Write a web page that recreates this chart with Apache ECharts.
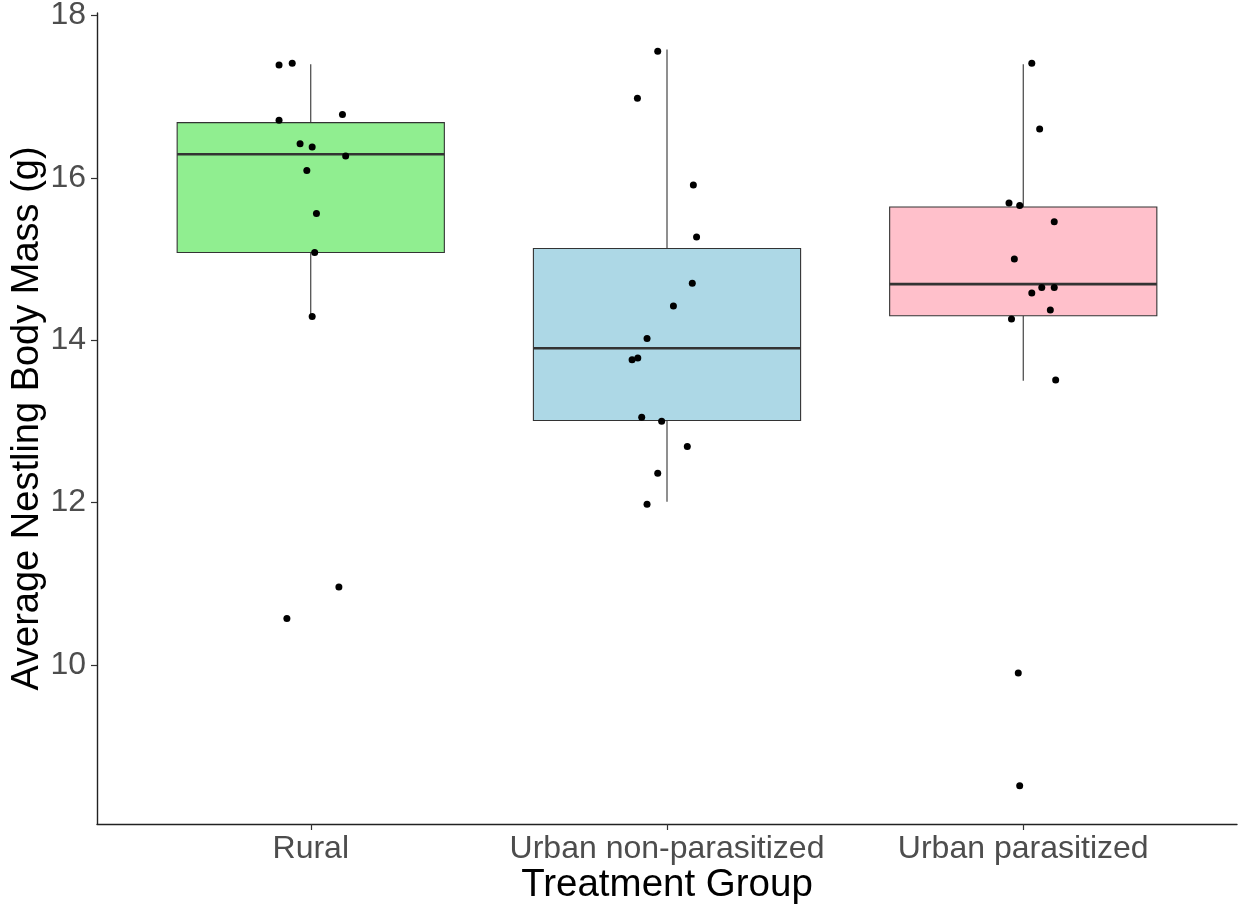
<!DOCTYPE html>
<html>
<head>
<meta charset="utf-8">
<script src="https://cdn.jsdelivr.net/npm/echarts@6/dist/echarts.min.js"></script>
<style>html,body{margin:0;padding:0;background:#fff}#c{width:1239px;height:909px}</style>
</head>
<body>
<div id="c"></div>
<script>
// ---- data ----
const categories = ['Rural', 'Urban non-parasitized', 'Urban parasitized'];
const boxColors = ['#90EE90', '#ADD8E6', '#FFC0CB'];
// box statistics
const whiskerLow = [14.29, 12.01, 13.50];
const quartile1  = [15.08, 13.01, 14.30];
const medians    = [16.29, 13.90, 14.69];
const quartile3  = [16.68, 15.13, 15.64];
const whiskerHigh= [17.40, 17.58, 17.40];
// jittered points (x position on the discrete axis, mass in g)
const ruralX    = [0.911, 0.948, 0.911, 1.089, 0.970, 1.004, 1.098, 0.989, 1.016, 1.011, 1.004, 1.079, 0.933];
const ruralMass = [17.39, 17.41, 16.71, 16.78, 16.42, 16.38, 16.27, 16.09, 15.56, 15.08, 14.29, 10.96, 10.57];
const urbanNonX    = [1.974, 1.917, 2.074, 2.083, 2.071, 2.018, 1.944, 1.902, 1.918, 1.929, 1.985, 2.057, 1.974, 1.944];
const urbanNonMass = [17.56, 16.98, 15.91, 15.27, 14.70, 14.42, 14.02, 13.76, 13.78, 13.05, 13.00, 12.69, 12.36, 11.98];
const urbanParX    = [3.024, 3.046, 2.960, 2.990, 3.087, 2.975, 3.052, 3.087, 3.024, 3.076, 2.967, 3.091, 2.986, 2.990];
const urbanParMass = [17.41, 16.60, 15.69, 15.66, 15.46, 15.00, 14.65, 14.65, 14.58, 14.37, 14.26, 13.51, 9.90, 8.51];
const yTicks = [10, 12, 14, 16, 18];
const xTicks = [1, 2, 3];

const boxData = categories.map((c, i) => [i + 1, whiskerLow[i], quartile1[i], medians[i], quartile3[i], whiskerHigh[i]]);
const pointData = [];
[[ruralX, ruralMass], [urbanNonX, urbanNonMass], [urbanParX, urbanParMass]].forEach(([xs, ys]) => {
  xs.forEach((x, j) => pointData.push([x, ys[j]]));
});

const FONT = "'Liberation Sans', Arial, sans-serif";
const chart = echarts.init(document.getElementById('c'), null, {renderer: 'canvas'});
chart.setOption({
  backgroundColor: '#ffffff',
  animation: false,
  grid: {left: 97, right: 2, top: 13, bottom: 85, containLabel: false, outerBoundsMode: 'none'},
  xAxis: {
    type: 'value', min: 0.4, max: 3.6,
    name: 'Treatment Group', nameLocation: 'middle', nameGap: 42, nameMoveOverlap: false,
    nameTextStyle: {fontFamily: FONT, fontSize: 38.5, color: '#000'},
    axisLine: {show: true, onZero: false, lineStyle: {color: '#222', width: 1.4}},
    axisTick: {show: true, length: 6, customValues: xTicks, lineStyle: {color: '#333', width: 1.2}},
    axisLabel: {show: true, customValues: xTicks, margin: 9, fontFamily: FONT, fontSize: 32, color: '#4D4D4D',
      formatter: v => categories[Math.round(v) - 1] || ''},
    splitLine: {show: false}
  },
  yAxis: {
    type: 'value', min: 8.04, max: 18.03,
    name: 'Average Nestling Body Mass (g)', nameLocation: 'middle', nameGap: 50, nameMoveOverlap: false,
    nameTextStyle: {fontFamily: FONT, fontSize: 38, color: '#000'},
    axisLine: {show: true, onZero: false, lineStyle: {color: '#222', width: 1.4}},
    axisTick: {show: true, length: 6, customValues: yTicks, lineStyle: {color: '#333', width: 1.2}},
    axisLabel: {show: true, customValues: yTicks, margin: 11, fontFamily: FONT, fontSize: 32, color: '#4D4D4D'},
    splitLine: {show: false}
  },
  series: [
    {
      type: 'custom',
      data: boxData,
      encode: {x: 0, y: [1, 2, 3, 4, 5]},
      z: 1,
      renderItem: function (params, api) {
        const x = api.value(0);
        const pLo = api.coord([x, api.value(1)]);
        const pQ1 = api.coord([x, api.value(2)]);
        const pMed = api.coord([x, api.value(3)]);
        const pQ3 = api.coord([x, api.value(4)]);
        const pHi = api.coord([x, api.value(5)]);
        const half = api.size([0.75, 0])[0] / 2;
        const stroke = '#333333';
        return {
          type: 'group',
          children: [
            {type: 'line', shape: {x1: pLo[0], y1: pLo[1], x2: pQ1[0], y2: pQ1[1]}, style: {stroke: stroke, lineWidth: 1.1}},
            {type: 'line', shape: {x1: pHi[0], y1: pHi[1], x2: pQ3[0], y2: pQ3[1]}, style: {stroke: stroke, lineWidth: 1.1}},
            {type: 'rect', shape: {x: pQ3[0] - half, y: pQ3[1], width: half * 2, height: pQ1[1] - pQ3[1]},
              style: {fill: boxColors[params.dataIndex], stroke: stroke, lineWidth: 1.1}},
            {type: 'line', shape: {x1: pMed[0] - half, y1: pMed[1], x2: pMed[0] + half, y2: pMed[1]}, style: {stroke: stroke, lineWidth: 2.6}}
          ]
        };
      }
    },
    {
      type: 'scatter',
      data: pointData,
      symbol: 'circle',
      symbolSize: 7,
      z: 3,
      itemStyle: {color: '#000000', opacity: 1}
    }
  ]
});
</script>
</body>
</html>
